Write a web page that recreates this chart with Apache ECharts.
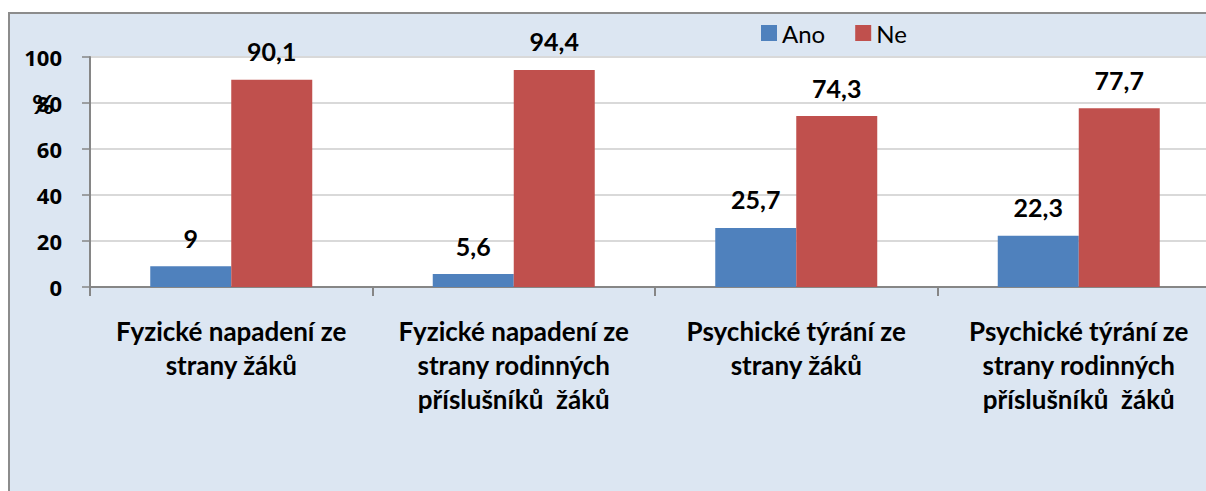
<!DOCTYPE html>
<html>
<head>
<meta charset="utf-8">
<script src="https://cdn.jsdelivr.net/npm/echarts@6/dist/echarts.min.js"></script>
<style>
  html, body { margin: 0; padding: 0; width: 1206px; height: 491px; overflow: hidden; background: #ffffff; position: relative; }
  #frame { position: absolute; left: 8px; top: 12px; width: 1198px; height: 479px; background: #dce6f2; border-left: 2px solid #8c8c8c; border-top: 2px solid #8c8c8c; box-sizing: border-box; }
  #clip { position: absolute; left: 0; top: 0; width: 1206px; height: 491px; overflow: hidden; }
  #chart { position: absolute; left: 0; top: 0; width: 1240px; height: 491px; }
</style>
</head>
<body>
<div id="frame"></div>
<div id="clip"><div id="chart"></div></div>
<script>
const categories = [
  'Fyzické napadení ze\nstrany žáků',
  'Fyzické napadení ze\nstrany rodinných\npříslušníků  žáků',
  'Psychické týrání ze\nstrany žáků',
  'Psychické týrání ze\nstrany rodinných\npříslušníků  žáků'
];
const seriesNames = ['Ano', 'Ne'];
const anoValues = [9, 5.6, 25.7, 22.3];
const neValues = [90.1, 94.4, 74.3, 77.7];
const yTicks = [0, 20, 40, 60, 80, 100];
const yUnit = '%';

const FONT = 'Lato';
const chart = echarts.init(document.getElementById('chart'), null, { renderer: 'svg' });

const labelFmt = p => String(p.value).replace('.', ',');

chart.setOption({
  backgroundColor: 'transparent',
  animation: false,
  textStyle: { fontFamily: FONT },
  legend: {
    left: 756, top: 16,
    itemWidth: 16, itemHeight: 16, itemGap: 30,
    icon: 'rect',
    data: seriesNames,
    textStyle: { fontFamily: FONT, fontSize: 24, color: '#000' }
  },
  grid: {
    left: 90, top: 57, bottom: 204, right: 20,
    show: true, backgroundColor: '#ffffff', borderWidth: 0,
    containLabel: false
  },
  xAxis: {
    type: 'category',
    data: categories,
    axisLine: { show: true, lineStyle: { color: '#868686', width: 2 } },
    axisTick: { show: true, length: 9, lineStyle: { color: '#868686', width: 2 } },
    axisLabel: {
      interval: 0, margin: 27,
      fontFamily: FONT, fontWeight: 'bold', fontSize: 26, lineHeight: 34, color: '#000', align: 'center'
    }
  },
  yAxis: {
    type: 'value',
    min: yTicks[0], max: yTicks[yTicks.length - 1], interval: 20,
    axisLine: { show: true, lineStyle: { color: '#868686', width: 2 } },
    axisTick: { show: true, length: 8, lineStyle: { color: '#868686', width: 1.5 } },
    splitLine: { show: true, lineStyle: { color: '#d9d9d9', width: 2 } },
    axisLabel: { margin: 28, fontFamily: 'Open Sans', fontWeight: 'bold', fontSize: 22, color: '#000' }
  },
  graphic: [{
    type: 'text', left: 32, top: 90,
    style: { text: yUnit, fontFamily: FONT, fontWeight: 'bold', fontSize: 27, fill: '#000' }
  }],
  series: [
    {
      name: seriesNames[0], type: 'bar', data: anoValues,
      barWidth: 81, barGap: '0%',
      itemStyle: { color: '#4f81bd' },
      label: { show: true, position: 'top', distance: 16, formatter: labelFmt, fontFamily: FONT, fontWeight: 'bold', fontSize: 25, color: '#000' }
    },
    {
      name: seriesNames[1], type: 'bar', data: neValues,
      barWidth: 81, barGap: '0%',
      itemStyle: { color: '#c0504d' },
      label: { show: true, position: 'top', distance: 16, formatter: labelFmt, fontFamily: FONT, fontWeight: 'bold', fontSize: 25, color: '#000' }
    }
  ]
});
</script>
</body>
</html>
